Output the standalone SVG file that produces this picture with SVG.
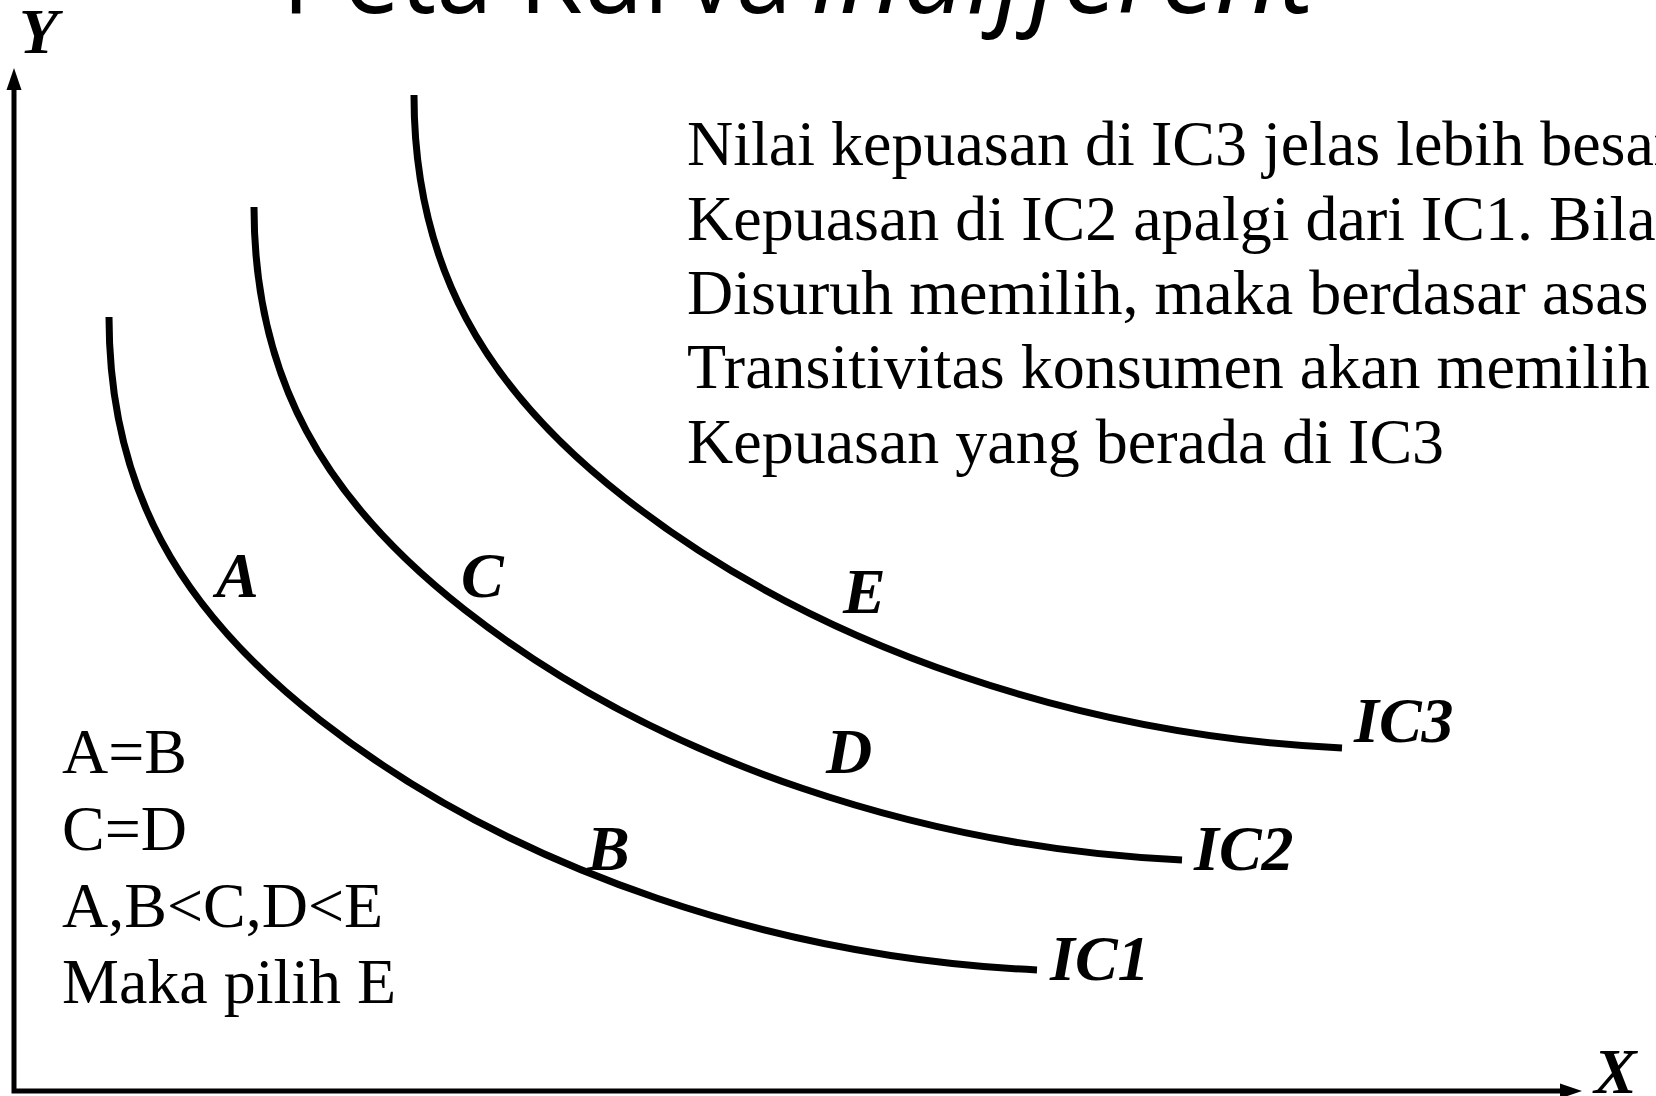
<svg xmlns="http://www.w3.org/2000/svg" xmlns:xlink="http://www.w3.org/1999/xlink" width="1656" height="1096" viewBox="0 0 1656 1096">
  <style>
    .title { font-family: "Open Sans", "Liberation Sans", sans-serif; font-size: 112px; fill: #000; }
    .body { font-family: "Liberation Serif", "Times New Roman", serif; font-size: 64px; fill: #000; }
    .lbl { font-family: "Liberation Serif", "Times New Roman", serif; font-size: 64px; font-weight: bold; font-style: italic; fill: #000; }
    .curve { fill: none; stroke: #000; stroke-width: 7; }
    .axis { fill: none; stroke: #000; stroke-width: 5; }
  </style>
  <defs>
    <path id="icShape" d="M0,0 c0,170 69,292 211,403 c197,154 463,238 717,250"/>
  </defs>
  <rect width="1656" height="1096" fill="#fff"/>

  <g id="title">
    <text class="title" x="282" y="12.5" textLength="510" lengthAdjust="spacingAndGlyphs">Peta Kurva</text>
    <text class="title" x="810" y="12.5" font-style="italic" textLength="505" lengthAdjust="spacingAndGlyphs">Indifferent</text>
  </g>

  <g id="connectors">
    <g id="axes">
      <polyline class="axis" points="14,86 14,1091 1563,1091"/>
      <polygon points="14,68 6.5,90 21.5,90" fill="#000"/>
      <polygon points="1582,1091 1560,1083.5 1560,1098.5" fill="#000"/>
    </g>
    <g id="curves">
      <use xlink:href="#icShape" class="curve" transform="translate(109,317)"/>
      <use xlink:href="#icShape" class="curve" transform="translate(254,207)"/>
      <use xlink:href="#icShape" class="curve" transform="translate(414,95)"/>
    </g>
  </g>

  <g id="axis-labels">
    <text class="lbl" x="19" y="53">Y</text>
    <text class="lbl" x="1594" y="1093">X</text>
  </g>

  <g id="node-IC1"><text class="lbl" x="1050" y="980">IC1</text></g>
  <g id="node-IC2"><text class="lbl" x="1194" y="870">IC2</text></g>
  <g id="node-IC3"><text class="lbl" x="1354" y="742">IC3</text></g>

  <g id="node-A"><text class="lbl" x="216" y="597">A</text></g>
  <g id="node-B"><text class="lbl" x="587" y="870">B</text></g>
  <g id="node-C"><text class="lbl" x="461" y="597">C</text></g>
  <g id="node-D"><text class="lbl" x="826" y="773">D</text></g>
  <g id="node-E"><text class="lbl" x="843" y="613">E</text></g>

  <g id="explanation">
    <text class="body" x="687" y="165">Nilai kepuasan di IC3 jelas lebih besar</text>
    <text class="body" x="687" y="240">Kepuasan di IC2 apalgi dari IC1. Bila</text>
    <text class="body" x="687" y="314">Disuruh memilih, maka berdasar asas</text>
    <text class="body" x="687" y="388">Transitivitas konsumen akan memilih</text>
    <text class="body" x="687" y="463">Kepuasan yang berada di IC3</text>
  </g>

  <g id="summary">
    <text class="body" x="62" y="773">A=B</text>
    <text class="body" x="62" y="850">C=D</text>
    <text class="body" x="62" y="927">A,B&lt;C,D&lt;E</text>
    <text class="body" x="62" y="1003">Maka pilih E</text>
  </g>
</svg>
